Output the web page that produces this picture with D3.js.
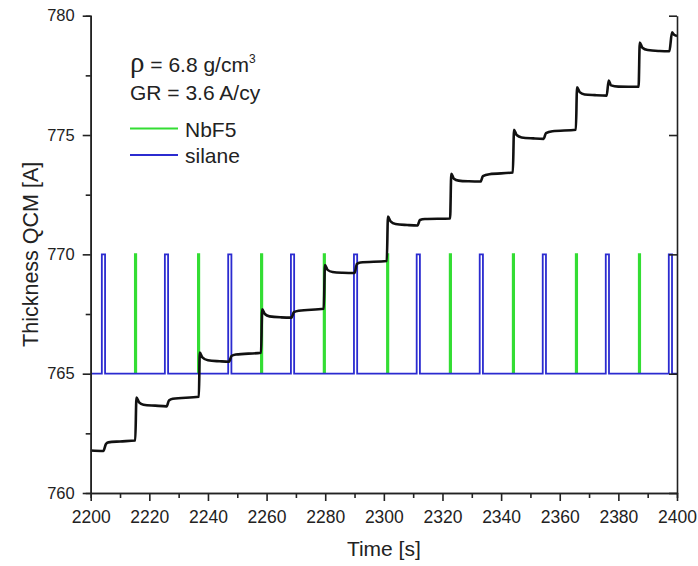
<!DOCTYPE html>
<html>
<head>
<meta charset="utf-8">
<script src="https://cdn.jsdelivr.net/npm/d3@7"></script>
<style>
  body { margin: 0; background: #fff; }
  text { font-family: "Liberation Sans", Arial, sans-serif; fill: #222; }
  .axis path, .axis line { stroke: #222; stroke-width: 1.6; }
</style>
</head>
<body>
<svg id="chart"></svg>
<script>
// thickness trace: [time s, thickness A]
var thickness = [
  [2200, 761.78], [2204.3, 761.76], [2205.2, 762.05], [2206, 762.12], [2210, 762.16], [2215.2, 762.2],
  [2215.6, 764.0], [2216.5, 763.8], [2218, 763.7], [2222, 763.66], [2225.9, 763.63], [2226.7, 763.88], [2228, 763.95], [2236.9, 764.03],
  [2237.2, 765.88], [2238.1, 765.68], [2240, 765.56], [2244, 765.52], [2247.2, 765.5], [2248.0, 765.74], [2249.5, 765.8], [2258.1, 765.88],
  [2258.5, 767.7], [2259.4, 767.5], [2261, 767.4], [2265, 767.36], [2268.5, 767.35], [2269.3, 767.58], [2271, 767.64], [2279.5, 767.72],
  [2279.9, 769.55], [2280.8, 769.35], [2282.5, 769.26], [2286, 769.23], [2290.0, 769.22], [2290.8, 769.6], [2292, 769.66], [2301, 769.72],
  [2301.4, 771.58], [2302.3, 771.38], [2304, 771.27], [2308, 771.23], [2311.5, 771.21], [2312.3, 771.44], [2314, 771.48], [2322.6, 771.5],
  [2323, 773.38], [2323.9, 773.17], [2325.5, 773.09], [2329, 773.06], [2333.0, 773.05], [2333.8, 773.28], [2336, 773.36], [2344, 773.43],
  [2344.4, 775.22], [2345.3, 775.0], [2347, 774.9], [2351, 774.86], [2354.5, 774.84], [2355.3, 775.08], [2357.5, 775.16], [2365.5, 775.22],
  [2365.9, 777.0], [2366.8, 776.8], [2368.5, 776.7], [2372, 776.67], [2376.0, 776.65], [2376.7, 777.28], [2377.5, 777.08], [2380, 777.03], [2386.9, 777.02],
  [2387.3, 778.88], [2388.2, 778.66], [2390, 778.56], [2394, 778.52], [2397.4, 778.51], [2398.3, 779.3], [2399, 779.2], [2400, 779.15]
];

// valve pulses (on / off times, s)
var nbf5On  = [2215.1, 2236.6, 2258.1, 2279.5, 2301.1, 2322.5, 2344.0, 2365.5, 2387.0];
var nbf5Off = [2215.5, 2237.0, 2258.5, 2279.9, 2301.5, 2322.9, 2344.4, 2365.9, 2387.4];
var silaneOn  = [2203.8, 2225.3, 2246.9, 2268.3, 2289.8, 2311.2, 2332.7, 2354.2, 2375.7, 2397.2];
var silaneOff = [2204.9, 2226.4, 2248.0, 2269.4, 2290.9, 2312.3, 2333.8, 2355.3, 2376.8, 2398.3];
var pulseLow = 765, pulseHigh = 770;

var xTicks = [2200, 2220, 2240, 2260, 2280, 2300, 2320, 2340, 2360, 2380, 2400];
var yTicks = [760, 765, 770, 775, 780];

var width = 698, height = 566;
var margin = {top: 15.7, right: 21, bottom: 73, left: 90.7};

var svg = d3.select("#chart")
    .attr("width", width)
    .attr("height", height);

var x = d3.scaleLinear().domain([2200, 2400]).range([margin.left, width - margin.right]);
var y = d3.scaleLinear().domain([760, 780]).range([height - margin.bottom, margin.top]);

var line = d3.line()
    .x(function (d) { return x(d[0]); })
    .y(function (d) { return y(d[1]); });

function pulseTrace(on, off) {
    var pts = [[x.domain()[0], pulseLow]];
    on.forEach(function (t, i) {
        pts.push([t, pulseLow], [t, pulseHigh], [off[i], pulseHigh], [off[i], pulseLow]);
    });
    pts.push([x.domain()[1], pulseLow]);
    return pts;
}

// green pulses only (its baseline sits under the blue one)
svg.selectAll(".nbf5")
    .data(nbf5On)
    .enter().append("path")
    .attr("class", "nbf5")
    .attr("d", function (t, i) {
        return line([[t, pulseLow], [t, pulseHigh], [nbf5Off[i], pulseHigh], [nbf5Off[i], pulseLow]]);
    })
    .attr("fill", "none")
    .attr("stroke", "#33dd33")
    .attr("stroke-width", 2);

svg.append("path")
    .attr("d", line(pulseTrace(silaneOn, silaneOff)))
    .attr("fill", "none")
    .attr("stroke", "#2b2bd0")
    .attr("stroke-width", 1.8);

svg.append("path")
    .attr("d", d3.line()
        .x(function (d) { return x(d[0]); })
        .y(function (d) { return y(d[1]); })
        .curve(d3.curveMonotoneX)(thickness))
    .attr("fill", "none")
    .attr("stroke", "#111")
    .attr("stroke-width", 2.6)
    .attr("stroke-linejoin", "round");

// minor ticks first, then labelled majors
svg.append("g").attr("class", "axis")
    .attr("transform", "translate(0," + y(760) + ")")
    .call(d3.axisBottom(x).tickValues(d3.range(2210, 2400, 20)).tickSize(5).tickFormat(""));
svg.append("g").attr("class", "axis xaxis")
    .attr("transform", "translate(0," + y(760) + ")")
    .call(d3.axisBottom(x).tickValues(xTicks).tickSize(8).tickSizeOuter(0).tickPadding(10).tickFormat(d3.format("d")));

svg.append("g").attr("class", "axis")
    .attr("transform", "translate(" + x(2200) + ",0)")
    .call(d3.axisLeft(y).tickValues(d3.range(762.5, 780, 5)).tickSize(5).tickFormat(""));
svg.append("g").attr("class", "axis yaxis")
    .attr("transform", "translate(" + x(2200) + ",0)")
    .call(d3.axisLeft(y).tickValues(yTicks).tickSize(8).tickSizeOuter(0).tickPadding(8).tickFormat(d3.format("d")));

svg.append("g").attr("class", "axis")
    .attr("transform", "translate(" + x(2400) + ",0)")
    .call(d3.axisLeft(y).tickValues(yTicks).tickSize(8).tickSizeOuter(0).tickFormat(""));

svg.selectAll(".axis .domain").attr("stroke-width", 1.8);
svg.selectAll(".xaxis text").style("font-size", "17.5px");
svg.selectAll(".yaxis text").style("font-size", "16.5px");

// axis titles
svg.append("text")
    .attr("x", (x(2200) + x(2400)) / 2)
    .attr("y", 556)
    .attr("text-anchor", "middle")
    .style("font-size", "21px")
    .text("Time [s]");

svg.append("text")
    .attr("transform", "translate(38," + ((y(760) + y(780)) / 2) + ") rotate(-90)")
    .attr("text-anchor", "middle")
    .style("font-size", "21.5px")
    .text("Thickness QCM [A]");

// annotations
var note = svg.append("text").attr("x", 130).attr("y", 72).style("font-size", "21px");
note.append("tspan").style("font-family", "'Liberation Serif', serif").style("font-size", "29px").text("ρ");
note.append("tspan").text(" = 6.8 g/cm");
note.append("tspan").attr("dy", -9).style("font-size", "12px").text("3");

svg.append("text").attr("x", 130).attr("y", 100).style("font-size", "21px").text("GR = 3.6 A/cy");

var legendItems = [["NbF5", "#33dd33"], ["silane", "#2b2bd0"]];
var legend = svg.selectAll(".legendItem")
    .data(legendItems)
    .enter().append("g")
    .attr("class", "legendItem")
    .attr("transform", function (d, i) { return "translate(130," + (128.5 + i * 26.5) + ")"; });

legend.append("line")
    .attr("x1", 0).attr("x2", 48)
    .attr("stroke", function (d) { return d[1]; })
    .attr("stroke-width", 2);

legend.append("text")
    .attr("x", 55)
    .attr("y", 8)
    .style("font-size", "21px")
    .text(function (d) { return d[0]; });
</script>
</body>
</html>
